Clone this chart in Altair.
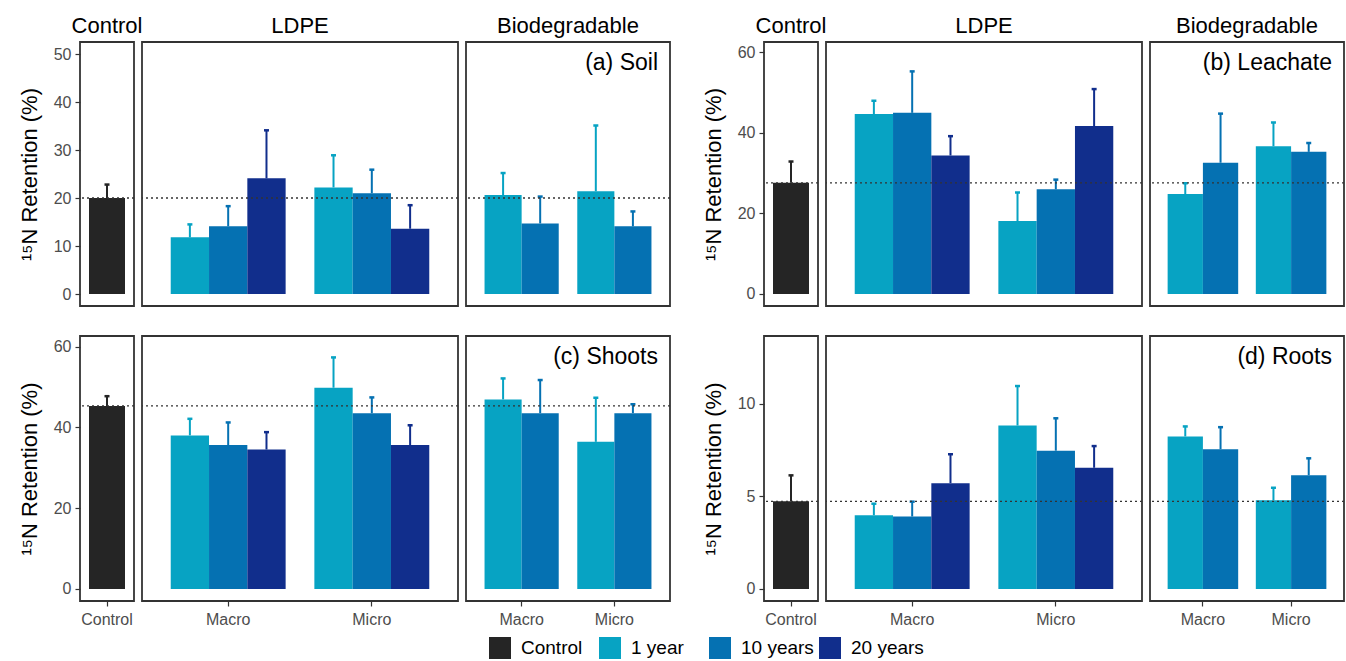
import altair as alt
import pandas as pd

FONT = "Liberation Sans"
YTITLE = "¹⁵N Retention (%)"

AGES = ["1 year", "10 years", "20 years"]
LEGEND_DOMAIN = ["Control", "1 year", "10 years", "20 years"]
COLORS = ["#252525", "#07A3C3", "#0571B2", "#112E8C"]
TYPES = ["Macro", "Micro"]

# (a) Soil
soil_control = [20.0]
soil_control_se = [2.8]
soil_ldpe_macro = [11.8, 14.1, 24.1]
soil_ldpe_macro_se = [2.7, 4.2, 10.0]
soil_ldpe_micro = [22.2, 21.0, 13.6]
soil_ldpe_micro_se = [6.7, 4.9, 4.9]
soil_bio_macro = [20.6, 14.7]
soil_bio_macro_se = [4.6, 5.6]
soil_bio_micro = [21.4, 14.1]
soil_bio_micro_se = [13.7, 3.1]

# (b) Leachate
leach_control = [27.6]
leach_control_se = [5.3]
leach_ldpe_macro = [44.7, 45.0, 34.4]
leach_ldpe_macro_se = [3.3, 10.3, 4.8]
leach_ldpe_micro = [18.1, 26.0, 41.7]
leach_ldpe_micro_se = [7.1, 2.4, 9.2]
leach_bio_macro = [24.8, 32.6]
leach_bio_macro_se = [2.7, 12.2]
leach_bio_micro = [36.7, 35.3]
leach_bio_micro_se = [5.9, 2.2]

# (c) Shoots
shoot_control = [45.3]
shoot_control_se = [2.4]
shoot_ldpe_macro = [38.0, 35.6, 34.5]
shoot_ldpe_macro_se = [4.1, 5.6, 4.3]
shoot_ldpe_micro = [49.8, 43.5, 35.6]
shoot_ldpe_micro_se = [7.5, 3.9, 4.9]
shoot_bio_macro = [46.9, 43.5]
shoot_bio_macro_se = [5.2, 8.2]
shoot_bio_micro = [36.4, 43.5]
shoot_bio_micro_se = [10.9, 2.2]

# (d) Roots
root_control = [4.73]
root_control_se = [1.40]
root_ldpe_macro = [3.98, 3.91, 5.71]
root_ldpe_macro_se = [0.62, 0.80, 1.56]
root_ldpe_micro = [8.82, 7.46, 6.54]
root_ldpe_micro_se = [2.13, 1.75, 1.17]
root_bio_macro = [8.23, 7.54]
root_bio_macro_se = [0.54, 1.19]
root_bio_micro = [4.79, 6.14]
root_bio_micro_se = [0.67, 0.91]

# axis domains / ticks per response
soil_domain = [-2.5, 52.5]
soil_ticks = [0, 10, 20, 30, 40, 50]
leach_domain = [-3.0, 62.6]
leach_ticks = [0, 20, 40, 60]
shoot_domain = [-3.0, 62.6]
shoot_ticks = [0, 20, 40, 60]
root_domain = [-0.65, 13.65]
root_ticks = [0, 5, 10]


def rows(typ, ages, means, ses):
    return [
        {"type": typ, "age": a, "mean": m, "upper": m + s}
        for a, m, s in zip(ages, means, ses)
    ]


CSCALE = alt.Scale(domain=LEGEND_DOMAIN, range=COLORS)
LEG = alt.Legend(
    orient="none", legendX=409, legendY=595, direction="horizontal", title=None,
    symbolType="square", symbolSize=484, symbolStrokeWidth=0, symbolOpacity=1,
    labelFontSize=19, labelColor="black", labelFont=FONT, labelOffset=10,
    columnPadding=5, gridAlign="all",
)


def panel(df, material, domain, ticks, width, height, show_y, show_x, title, label, ref_value):
    if material == "Control":
        x_domain = ["Control"]
        off_domain = None
    elif material == "LDPE":
        x_domain = TYPES
        off_domain = AGES
    else:
        x_domain = TYPES
        off_domain = AGES[:2]

    if show_x:
        xaxis = alt.Axis(title=None, labelAngle=0, ticks=True, domain=False)
    else:
        xaxis = None
    x = alt.X("type:N", scale=alt.Scale(domain=x_domain, paddingInner=0.2, paddingOuter=0.2), axis=xaxis)
    yscale = alt.Scale(domain=domain, nice=False, zero=False)
    yaxis = alt.Axis(values=ticks, title=YTITLE) if show_y else None
    color = alt.Color("age:N", scale=CSCALE, legend=LEG)
    enc = dict(x=x, color=color)
    if off_domain is not None:
        enc["xOffset"] = alt.XOffset(
            "age:N", scale=alt.Scale(domain=off_domain, paddingInner=0, paddingOuter=0)
        )

    base = alt.Chart(df)
    bars = base.mark_bar().encode(
        y=alt.Y("mean:Q", scale=yscale, axis=yaxis, title=YTITLE),
        y2=alt.datum(0), **enc
    )
    stems = base.mark_rule(strokeWidth=2).encode(
        y=alt.Y("mean:Q", scale=yscale, axis=yaxis, title=YTITLE),
        y2="upper:Q", **enc
    )
    caps = base.mark_tick(size=5, thickness=2.5, opacity=1).encode(
        y=alt.Y("upper:Q", scale=yscale, axis=yaxis, title=YTITLE), **enc
    )
    ref = alt.Chart(pd.DataFrame({"ref": [ref_value]})).mark_rule(
        strokeDash=[2, 3], color="#333333", strokeWidth=1.3
    ).encode(y=alt.Y("ref:Q", scale=yscale, axis=yaxis, title=YTITLE))
    layers = [bars, stems, caps, ref]
    if label:
        txt = alt.Chart(pd.DataFrame({"lab": [label]})).mark_text(
            align="right", baseline="middle", fontSize=23, font=FONT, color="black"
        ).encode(text="lab:N", x=alt.value(width - 12), y=alt.value(21))
        layers.append(txt)
    ch = alt.layer(*layers).properties(width=width, height=height)
    if title:
        ch = ch.properties(title=alt.TitleParams(
            title, fontSize=22, fontWeight="normal", color="black", anchor="middle",
            offset=4, font=FONT
        ))
    return ch


def group(control, ctrl_se, lm, lm_se, li, li_se, bm, bm_se, bi, bi_se,
          domain, ticks, height, top, bottom, label, bio_width):
    ctrl_df = pd.DataFrame(rows("Control", ["Control"], control, ctrl_se))
    ldpe_df = pd.DataFrame(rows("Macro", AGES, lm, lm_se) + rows("Micro", AGES, li, li_se))
    bio_df = pd.DataFrame(rows("Macro", AGES[:2], bm, bm_se) + rows("Micro", AGES[:2], bi, bi_se))
    ref_value = control[0]
    c = panel(ctrl_df, "Control", domain, ticks, 54, height, True, bottom,
              "Control" if top else None, None, ref_value)
    l = panel(ldpe_df, "LDPE", domain, ticks, 316, height, False, bottom,
              "LDPE" if top else None, None, ref_value)
    b = panel(bio_df, "Biodegradable", domain, ticks, bio_width, height, False, bottom,
              "Biodegradable" if top else None, label, ref_value)
    return [c, l, b]


def spacer(height):
    return alt.Chart(pd.DataFrame({"a": [0]})).mark_point(opacity=0).encode(
        x=alt.value(0), y=alt.value(0)
    ).properties(width=78, height=height, view=alt.ViewBackground(stroke="transparent"))


top_left = group(soil_control, soil_control_se, soil_ldpe_macro, soil_ldpe_macro_se,
                 soil_ldpe_micro, soil_ldpe_micro_se, soil_bio_macro, soil_bio_macro_se,
                 soil_bio_micro, soil_bio_micro_se, soil_domain, soil_ticks, 264,
                 True, False, "(a) Soil", 204)
top_right = group(leach_control, leach_control_se, leach_ldpe_macro, leach_ldpe_macro_se,
                  leach_ldpe_micro, leach_ldpe_micro_se, leach_bio_macro, leach_bio_macro_se,
                  leach_bio_micro, leach_bio_micro_se, leach_domain, leach_ticks, 264,
                  True, False, "(b) Leachate", 194)
bot_left = group(shoot_control, shoot_control_se, shoot_ldpe_macro, shoot_ldpe_macro_se,
                 shoot_ldpe_micro, shoot_ldpe_micro_se, shoot_bio_macro, shoot_bio_macro_se,
                 shoot_bio_micro, shoot_bio_micro_se, shoot_domain, shoot_ticks, 265,
                 False, True, "(c) Shoots", 204)
bot_right = group(root_control, root_control_se, root_ldpe_macro, root_ldpe_macro_se,
                  root_ldpe_micro, root_ldpe_micro_se, root_bio_macro, root_bio_macro_se,
                  root_bio_micro, root_bio_micro_se, root_domain, root_ticks, 265,
                  False, True, "(d) Roots", 194)

cells = top_left + [spacer(264)] + top_right + bot_left + [spacer(265)] + bot_right

chart = alt.concat(
    *cells, columns=7, spacing={"row": 30, "column": 8}, bounds="flush"
).resolve_scale(
    x="independent", y="independent", xOffset="independent", color="shared"
).properties(
    padding={"left": 17, "top": 14, "right": 0, "bottom": 0},
    background="white",
).configure_view(
    stroke="#333333", strokeWidth=1.8
).configure_axis(
    grid=False, domain=False, labelFont=FONT, titleFont=FONT,
    labelFontSize=16, labelColor="#4D4D4D", tickColor="#333333", tickSize=5,
    tickWidth=1.2, titleFontSize=22, titleFontWeight="normal", titleColor="black",
).configure_axisY(
    titlePadding=12, labelPadding=4,
).configure_axisX(
    labelPadding=5,
)

chart.save("out.html", embed_options={"renderer": "svg", "actions": False})
